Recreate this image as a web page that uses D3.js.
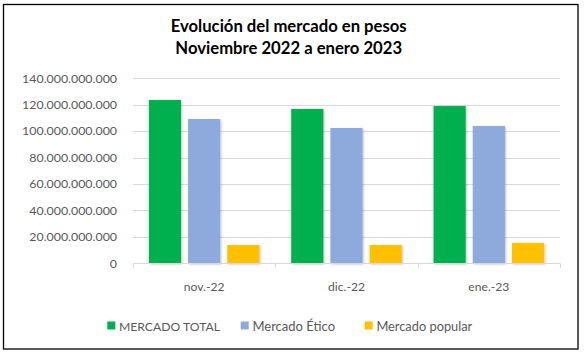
<!DOCTYPE html>
<html>
<head>
<meta charset="utf-8">
<script src="https://cdn.jsdelivr.net/npm/d3@7"></script>
<style>
  html, body { margin: 0; padding: 0; background: #fff; }
  svg { display: block; }
  text { font-family: Lato, "Open Sans", sans-serif; }
</style>
</head>
<body>
<script>
// ---- Data ----
const categories = ["nov.-22", "dic.-22", "ene.-23"];
const seriesNames = ["MERCADO TOTAL", "Mercado Ético", "Mercado popular"];
const mercadoTotal = [123.6e9, 116.8e9, 119.0e9];
const mercadoEtico = [109.2e9, 102.4e9, 103.9e9];
const mercadoPopular = [13.8e9, 13.8e9, 15.4e9];
const yTicks = [0, 20e9, 40e9, 60e9, 80e9, 100e9, 120e9, 140e9];
const titleLines = ["Evolución del mercado en pesos", "Noviembre 2022 a enero 2023"];
const colors = ["#00B050", "#8EA9DB", "#FFC000"];

const seriesValues = [mercadoTotal, mercadoEtico, mercadoPopular];

const W = 586, H = 355;
const svg = d3.select("body").append("svg").attr("width", W).attr("height", H);

const defs = svg.append("defs");
const f = defs.append("filter").attr("id", "sh").attr("x", "-20%").attr("y", "-20%").attr("width", "140%").attr("height", "140%");
f.append("feDropShadow").attr("dx", 1).attr("dy", 1).attr("stdDeviation", 0.8)
  .attr("flood-color", "#000").attr("flood-opacity", 0.25);

// frame
svg.append("rect").attr("x", 3.5).attr("y", 4.5).attr("width", 574.5).attr("height", 344.5)
  .attr("fill", "#fff").attr("stroke", "#000").attr("stroke-width", 1.3);

// helper: fit font-size to target width
function fit(sel, target) {
  const node = sel.node();
  const w = node.getComputedTextLength();
  const fs = parseFloat(sel.attr("font-size"));
  sel.attr("font-size", (fs * target / w).toFixed(2));
  return fs * target / w;
}

// scales
const plotL = 133, plotR = 560, y0 = 263.3, yTop = 78.3;
const x0 = d3.scaleBand().domain(categories).range([plotL, plotR]).paddingInner(0).paddingOuter(0);
const x1 = d3.scaleBand().domain(seriesNames).range([0, x0.bandwidth()]).paddingInner(0.18).paddingOuter(0.405);
const y = d3.scaleLinear().domain([0, 140e9]).range([y0, yTop]);

const loc = d3.formatLocale({decimal: ",", thousands: ".", grouping: [3], currency: ["$", ""]});
const fmt = loc.format(",.0f");

// gridlines
svg.append("g").selectAll("line").data(yTicks.filter(d => d > 0)).join("line")
  .attr("x1", plotL).attr("x2", plotR)
  .attr("y1", d => Math.round(y(d)) + 0.5).attr("y2", d => Math.round(y(d)) + 0.5)
  .attr("stroke", "#d9d9d9").attr("stroke-width", 1);

// y labels
const yl = svg.append("g").selectAll("text").data(yTicks).join("text")
  .attr("x", 117).attr("y", d => y(d)).attr("dy", "0.35em")
  .attr("text-anchor", "end").attr("fill", "#595959").attr("font-size", 13)
  .text(d => fmt(d));
const ys = fit(d3.select(yl.nodes()[yl.size() - 1]), 95);
yl.attr("font-size", ys.toFixed(2));

// bars
const gcat = svg.append("g").selectAll("g").data(categories).join("g")
  .attr("transform", d => `translate(${x0(d)},0)`);
gcat.selectAll("rect").data((c, i) => seriesNames.map((s, j) => ({s, v: seriesValues[j][i], j}))).join("rect")
  .attr("x", d => x1(d.s)).attr("width", x1.bandwidth())
  .attr("y", d => y(d.v)).attr("height", d => y0 - y(d.v))
  .attr("fill", d => colors[d.j]).attr("filter", "url(#sh)");

// x axis line and ticks
svg.append("line").attr("x1", plotL).attr("x2", plotR).attr("y1", Math.round(y0) + 0.5).attr("y2", Math.round(y0) + 0.5)
  .attr("stroke", "#d9d9d9");
const sepX = categories.map(c => x0(c)).concat([plotR]);
svg.append("g").selectAll("line").data(sepX).join("line")
  .attr("x1", d => Math.round(d) + 0.5).attr("x2", d => Math.round(d) + 0.5)
  .attr("y1", y0).attr("y2", y0 + 5).attr("stroke", "#d9d9d9");

// x labels
const xl = svg.append("g").selectAll("text").data(categories).join("text")
  .attr("x", d => x0(d) + x0.bandwidth() / 2).attr("y", 291)
  .attr("text-anchor", "middle").attr("fill", "#595959").attr("font-size", 13)
  .text(d => d);
const xs = fit(d3.select(xl.nodes()[0]), 40.7);
xl.attr("font-size", xs.toFixed(2));

// legend
const lg = svg.append("g");
const legStartX = [107.3, 240.7, 364.7];
const legWidths = [101, 82.7, 96];
seriesNames.forEach((s, i) => {
  lg.append("rect").attr("x", legStartX[i]).attr("y", 321.5).attr("width", 8).attr("height", 8).attr("fill", colors[i]);
  const t = lg.append("text").attr("x", legStartX[i] + 11.7).attr("y", 330.5).attr("fill", "#595959")
    .attr("font-size", 13).text(s);
  fit(t, legWidths[i]);
});

// title
const t1 = svg.append("text").attr("x", 288.7).attr("y", 32.3).attr("text-anchor", "middle")
  .attr("font-weight", "bold").attr("font-size", 16).attr("fill", "#000").text(titleLines[0]);
const ts = fit(t1, 236);
svg.append("text").attr("x", 288.7).attr("y", 53.6).attr("text-anchor", "middle")
  .attr("font-weight", "bold").attr("font-size", ts.toFixed(2)).attr("fill", "#000").text(titleLines[1]);
</script>
</body>
</html>
